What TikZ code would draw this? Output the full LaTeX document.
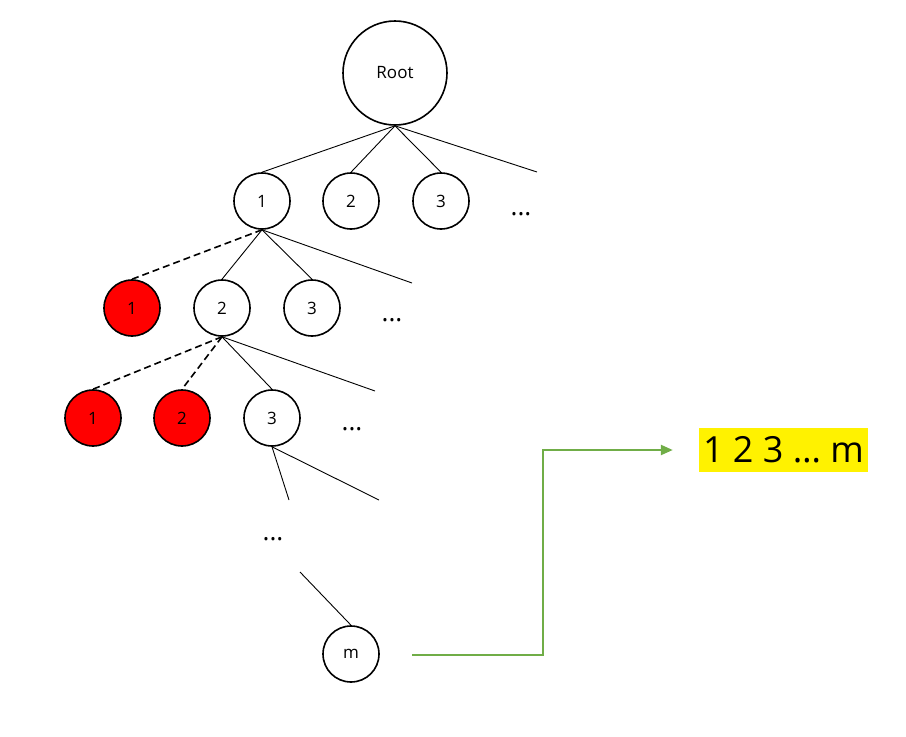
\documentclass[tikz,border=0pt]{standalone}
\usepackage{fontspec}
\setmainfont{Open Sans}
\usetikzlibrary{arrows.meta}
\definecolor{pathgreen}{RGB}{112,173,71}
\tikzset{
  vertex/.style={draw, circle, line width=1.6pt, fill=white, minimum size=56pt, inner sep=0pt, font=\fontsize{17}{20}\selectfont},
  picked/.style={vertex, fill=red},
  more/.style={anchor=base, font=\fontsize{26}{30}\selectfont},
  branch/.style={line width=0.9pt},
  skipped/.style={line width=1.6pt, dash pattern=on 7pt off 4pt},
}

\begin{document}
\begin{tikzpicture}[x=1pt, y=-1pt]
	\useasboundingbox (0,0) rectangle (906,737);
	% level 0 and 1
	\node[vertex, minimum size=104pt] (root) at (395,73) {Root};
	\node[vertex] (a1) at (262,201) {1};
	\node[vertex] (a2) at (351,201) {2};
	\node[vertex] (a3) at (441,201) {3};
	\node[more] (amore) at (521,215) {...};
	\coordinate (aend) at (537,172);
	\draw[branch] (root.south) -- (a1.north);
	\draw[branch] (root.south) -- (a2.north);
	\draw[branch] (root.south) -- (a3.north);
	\draw[branch] (root.south) -- (aend);
	% level 2
	\node[picked] (b1) at (132,308) {1};
	\node[vertex] (b2) at (222,308) {2};
	\node[vertex] (b3) at (312,308) {3};
	\node[more] (bmore) at (392,321) {...};
	\coordinate (bend) at (412,283);
	\draw[skipped] (a1.south) -- (b1.north);
	\draw[branch] (a1.south) -- (b2.north);
	\draw[branch] (a1.south) -- (b3.north);
	\draw[branch] (a1.south) -- (bend);
	% level 3
	\node[picked] (c1) at (93,418) {1};
	\node[picked] (c2) at (182,418) {2};
	\node[vertex] (c3) at (272,418) {3};
	\node[more] (cmore) at (352,430) {...};
	\coordinate (cend) at (375,391);
	\draw[skipped] (b2.south) -- (c1.north);
	\draw[skipped] (b2.south) -- (c2.north);
	\draw[branch] (b2.south) -- (c3.north);
	\draw[branch] (b2.south) -- (cend);
	% down to m
	\coordinate (dleft) at (289,500);
	\coordinate (dright) at (379,500);
	\draw[branch] (c3.south) -- (dleft);
	\draw[branch] (c3.south) -- (dright);
	\node[more] (dmore) at (273,540) {...};
	\coordinate (mstart) at (300,572);
	\node[vertex] (m) at (351,654) {m};
	\draw[branch] (mstart) -- (m.north);
	% result
	\node[fill=yellow, minimum width=169pt, minimum height=44pt, inner sep=0pt, font=\fontsize{36}{40}\selectfont] (result) at (783.5,450) {1 2 3 … m};
	\coordinate (mout) at (412,655);
	\coordinate (turn) at (543,450);
	\draw[pathgreen, line width=2.3pt, -{Triangle[length=12pt, width=10pt]}, shorten >=26pt] (mout) -| (turn) -- (result.west);
\end{tikzpicture}
\end{document}
